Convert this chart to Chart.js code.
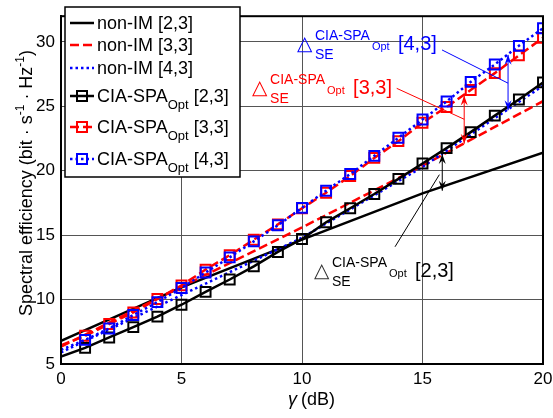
<!DOCTYPE html>
<html>
<head>
<meta charset="utf-8">
<script src="https://cdn.jsdelivr.net/npm/chart.js@4.4.1/dist/chart.umd.min.js"></script>
<style>
  html, body { margin: 0; padding: 0; background: #fff; }
  #wrap { width: 553px; height: 418px; }
</style>
</head>
<body>
<div id="wrap"><canvas id="seChart"></canvas></div>
<script>
// SNR axis (dB)
const gammaFine = [0, 1, 2, 3, 4, 5, 6, 7, 8, 9, 10, 11, 12, 13, 14, 15, 16, 17, 18, 19, 20];
const gammaCoarse = [0, 5, 10, 15, 20];

// non-IM curves
const nonIm23 = [6.8, 10.95, 14.65, 18.25, 21.4];
const nonIm33 = [6.35, 11.0, 15.6, 20.4, 25.4];
const nonIm43 = [5.9, 10.35, 14.8, 20.3, 26.6];

// CIA-SPA_Opt curves
const ciaSpa23 = [5.57, 6.25, 7.06, 7.86, 8.68, 9.6, 10.6, 11.56, 12.58, 13.7, 14.7, 16.0, 17.09, 18.2, 19.37, 20.57, 21.76, 23.0, 24.28, 25.53, 26.86];
const ciaSpa33 = [6.45, 7.19, 8.1, 9.0, 10.05, 11.1, 12.33, 13.45, 14.65, 15.84, 17.09, 18.3, 19.6, 21.0, 22.3, 23.73, 24.95, 26.27, 27.58, 28.96, 30.32];
const ciaSpa43 = [6.1, 6.87, 7.76, 8.8, 9.8, 10.9, 12.1, 13.28, 14.52, 15.77, 17.12, 18.45, 19.75, 21.16, 22.56, 23.98, 25.38, 26.9, 28.25, 29.7, 31.07];

const xTicks = [0, 5, 10, 15, 20];
const yTicks = [5, 10, 15, 20, 25, 30];
const antennaTags = ['[2,3]', '[3,3]', '[4,3]'];

const FONT = '"Liberation Sans", Arial, sans-serif';

function pts(xs, ys) {
    return ys.map((y, i) => ({ x: xs[i], y: y }));
}

const styles = [
    { color: '#000000', dash: [] },
    { color: '#ff0000', dash: [9, 4] },
    { color: '#0000ff', dash: [2.5, 3] }
];

// SE gap annotations (data coordinates)
const gapNotes = [
    { tag: antennaTags[2], color: '#0000ff', text: [9.83, 29.43], lead: [[15.81, 29.38], [18.55, 26.8]], arrow: [18.55, 24.7, 29.0] },
    { tag: antennaTags[1], color: '#ff0000', text: [7.97, 26.0], lead: [[13.93, 26.4], [16.73, 24.0]], arrow: [16.73, 22.1, 25.84] },
    { tag: antennaTags[0], color: '#000000', text: [10.54, 11.81], lead: [[15.7, 19.7], [13.86, 14.1]], arrow: [15.82, 18.45, 21.3] }
];

function arrowHead(ctx, x, y, dir) {
    // dir = -1 points up, +1 points down
    ctx.beginPath();
    ctx.moveTo(x, y);
    ctx.lineTo(x - 3.5, y - dir * 10);
    ctx.lineTo(x, y - dir * 6.5);
    ctx.lineTo(x + 3.5, y - dir * 10);
    ctx.closePath();
    ctx.fill();
}

const notesPlugin = {
    id: 'notes',
    afterDatasetsDraw(chart) {
        const ctx = chart.ctx;
        const xs = chart.scales.x, ys = chart.scales.y;
        ctx.save();
        gapNotes.forEach(n => {
            ctx.strokeStyle = n.color;
            ctx.fillStyle = n.color;
            ctx.lineWidth = 1;
            ctx.beginPath();
            ctx.moveTo(xs.getPixelForValue(n.lead[0][0]), ys.getPixelForValue(n.lead[0][1]));
            ctx.lineTo(xs.getPixelForValue(n.lead[1][0]), ys.getPixelForValue(n.lead[1][1]));
            ctx.stroke();
            const ax = xs.getPixelForValue(n.arrow[0]);
            const y0 = ys.getPixelForValue(n.arrow[1]);
            const y1 = ys.getPixelForValue(n.arrow[2]);
            ctx.beginPath();
            ctx.moveTo(ax, y0);
            ctx.lineTo(ax, y1);
            ctx.stroke();
            arrowHead(ctx, ax, y1, -1);
            arrowHead(ctx, ax, y0, 1);

            const tx = xs.getPixelForValue(n.text[0]);
            const ty = ys.getPixelForValue(n.text[1]);
            ctx.textBaseline = 'alphabetic';
            ctx.textAlign = 'left';
            ctx.fillStyle = n.color === '#000000' ? '#333333' : n.color;
            ctx.font = '20px "DejaVu Sans"';
            ctx.fillText('\u25B3', tx - 1, ty + 1);
            ctx.fillStyle = n.color;
            ctx.font = '14px ' + FONT;
            ctx.fillText('CIA-SPA', tx + 17, ty - 9);
            const w = ctx.measureText('CIA-SPA').width;
            ctx.fillText('SE', tx + 17, ty + 10);
            ctx.font = '11px ' + FONT;
            ctx.fillText('Opt', tx + 19 + w, ty + 1);
            ctx.font = '20px ' + FONT;
            ctx.fillText(n.tag, tx + 100, ty + 1);
        });
        ctx.restore();
    }
};

const legendRows = [
    { name: 'non-IM', sub: '', tag: antennaTags[0], style: styles[0], marker: false },
    { name: 'non-IM', sub: '', tag: antennaTags[1], style: styles[1], marker: false },
    { name: 'non-IM', sub: '', tag: antennaTags[2], style: styles[2], marker: false },
    { name: 'CIA-SPA', sub: 'Opt', tag: antennaTags[0], style: styles[0], marker: true },
    { name: 'CIA-SPA', sub: 'Opt', tag: antennaTags[1], style: styles[1], marker: true },
    { name: 'CIA-SPA', sub: 'Opt', tag: antennaTags[2], style: styles[2], marker: true }
];
const rowLineY = [23, 45, 68, 96, 127, 159];

const boxPlugin = {
    id: 'box',
    afterDraw(chart) {
        const ctx = chart.ctx;
        const a = chart.chartArea;
        ctx.save();
        // frame
        ctx.strokeStyle = '#000';
        ctx.lineWidth = 2;
        ctx.strokeRect(a.left, a.top, a.right - a.left, a.bottom - a.top);

        // legend
        ctx.fillStyle = '#fff';
        ctx.fillRect(65, 7, 175, 170);
        ctx.lineWidth = 1.5;
        ctx.strokeRect(65, 7, 175, 170);
        legendRows.forEach((r, i) => {
            const y = rowLineY[i];
            ctx.strokeStyle = r.style.color;
            ctx.lineWidth = 2.5;
            ctx.setLineDash(r.style.dash);
            ctx.beginPath();
            ctx.moveTo(70, y);
            ctx.lineTo(94, y);
            ctx.stroke();
            ctx.setLineDash([]);
            if (r.marker) {
                ctx.lineWidth = 2;
                ctx.strokeRect(77, y - 5, 10, 10);
            }
            ctx.fillStyle = '#000';
            ctx.textAlign = 'left';
            ctx.font = '18px ' + FONT;
            const base = y + 6;
            let x = 97;
            ctx.fillText(r.name, x, base);
            x += ctx.measureText(r.name).width;
            if (r.sub) {
                ctx.font = '13px ' + FONT;
                ctx.fillText(r.sub, x, base + 7);
                x += ctx.measureText(r.sub).width;
                ctx.font = '18px ' + FONT;
            }
            ctx.fillText(' ' + r.tag, x, base);
        });

        // axis titles
        ctx.fillStyle = '#000';
        ctx.font = 'italic 18px ' + FONT;
        ctx.fillText('\u03B3', 288, 405);
        ctx.font = '18px ' + FONT;
        ctx.fillText(' (dB)', 296, 405);

        ctx.translate(32, 183);
        ctx.rotate(-Math.PI / 2);
        const parts = [
            { t: 'Spectral efficiency (bit \u00B7 s', s: 18, dy: 0 },
            { t: '-1', s: 12, dy: -8 },
            { t: ' \u00B7 Hz', s: 18, dy: 0 },
            { t: '-1', s: 12, dy: -8 },
            { t: ')', s: 18, dy: 0 }
        ];
        let total = 0;
        parts.forEach(p => { ctx.font = p.s + 'px ' + FONT; p.w = ctx.measureText(p.t).width; total += p.w; });
        let px = -total / 2;
        parts.forEach(p => {
            ctx.font = p.s + 'px ' + FONT;
            ctx.fillText(p.t, px, p.dy);
            px += p.w;
        });
        ctx.restore();
    }
};

function lineSet(label, xs, ys, st, order, withMarker) {
    return {
        label: label,
        data: pts(xs, ys),
        borderColor: st.color,
        borderWidth: 2.5,
        borderDash: st.dash,
        fill: false,
        tension: 0,
        order: order,
        pointStyle: 'rect',
        pointRadius: withMarker ? (c => c.dataIndex === 0 ? 0 : 7) : 0,
        pointBorderWidth: 2,
        pointBorderColor: st.color,
        pointBackgroundColor: 'rgba(0,0,0,0)'
    };
}

const ctx = document.getElementById('seChart').getContext('2d');
new Chart(ctx, {
    type: 'line',
    data: {
        datasets: [
            lineSet('non-IM [2,3]', gammaCoarse, nonIm23, styles[0], 6, false),
            lineSet('non-IM [3,3]', gammaCoarse, nonIm33, styles[1], 5, false),
            lineSet('non-IM [4,3]', gammaCoarse, nonIm43, styles[2], 4, false),
            lineSet('CIA-SPA Opt [2,3]', gammaFine, ciaSpa23, styles[0], 3, true),
            lineSet('CIA-SPA Opt [3,3]', gammaFine, ciaSpa33, styles[1], 2, true),
            lineSet('CIA-SPA Opt [4,3]', gammaFine, ciaSpa43, styles[2], 1, true)
        ]
    },
    options: {
        responsive: true,
        maintainAspectRatio: false,
        animation: false,
        layout: { padding: { top: 3, right: 0, left: 0, bottom: 0 } },
        scales: {
            x: {
                type: 'linear',
                min: 0,
                max: 20,
                afterBuildTicks: s => { s.ticks = xTicks.map(v => ({ value: v })); },
                afterFit: s => { s.height = 54; s.paddingRight = 10; },
                grid: { color: '#555', lineWidth: 1, drawTicks: false },
                border: { display: true, color: '#000', width: 2 },
                ticks: { color: '#000', padding: 5, font: { family: FONT, size: 17 } }
            },
            y: {
                type: 'linear',
                min: 5,
                max: 32,
                afterBuildTicks: s => { s.ticks = yTicks.map(v => ({ value: v })); },
                afterFit: s => { s.width = 61; },
                grid: { color: '#555', lineWidth: 1, drawTicks: false },
                border: { display: true, color: '#000', width: 2 },
                ticks: { color: '#000', padding: 6, font: { family: FONT, size: 17 } }
            }
        },
        plugins: {
            legend: { display: false },
            tooltip: { enabled: false }
        }
    },
    plugins: [notesPlugin, boxPlugin]
});
</script>
</body>
</html>
